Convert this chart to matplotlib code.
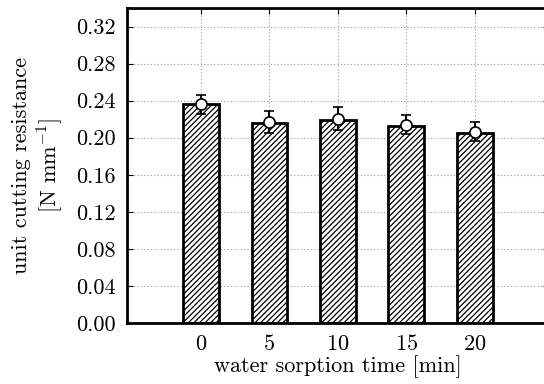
import matplotlib
matplotlib.use('Agg')
import matplotlib.pyplot as plt

plt.rcParams['font.family'] = 'cmr10'
plt.rcParams['mathtext.fontset'] = 'cm'
plt.rcParams['axes.formatter.use_mathtext'] = True
plt.rcParams['hatch.linewidth'] = 0.9

times = [0, 5, 10, 15, 20]
bar_values = [0.236, 0.216, 0.219, 0.213, 0.205]
means = [0.236, 0.217, 0.2205, 0.214, 0.2065]
errors = [0.010, 0.0115, 0.0125, 0.0105, 0.0105]
yticks = [0.00, 0.04, 0.08, 0.12, 0.16, 0.20, 0.24, 0.28, 0.32]

fig = plt.figure(figsize=(5.44, 3.84), dpi=100)
ax = fig.add_axes([0.2335, 0.159, 0.775, 0.82])

ax.bar(times, bar_values, width=2.6, color='white', edgecolor='black',
       linewidth=2, hatch='//////', zorder=2)
ax.errorbar(times, means, yerr=errors, fmt='o', color='black', mfc='white',
            mec='black', ms=8, mew=1.2, capsize=3.5, capthick=2, elinewidth=1.5,
            zorder=3)

ax.set_xlim(-5.4, 25.4)
ax.set_ylim(0, 0.34)
ax.set_xticks(times)
ax.set_yticks(yticks)
ax.set_yticklabels(['%.2f' % v for v in yticks])
ax.grid(True, linestyle=(0, (1, 2)), color='#999999', linewidth=0.8, zorder=0)
ax.set_axisbelow(True)
ax.tick_params(direction='in', top=True, right=True, labelsize=16, length=4, pad=8)
for s in ax.spines.values():
    s.set_linewidth(2)

ax.set_xlabel('water sorption time [min]', fontsize=16, labelpad=1)
ax.set_ylabel('unit cutting resistance\n[N mm$^{-1}$]', fontsize=16, labelpad=8)

fig.savefig('out.png', dpi=100)
